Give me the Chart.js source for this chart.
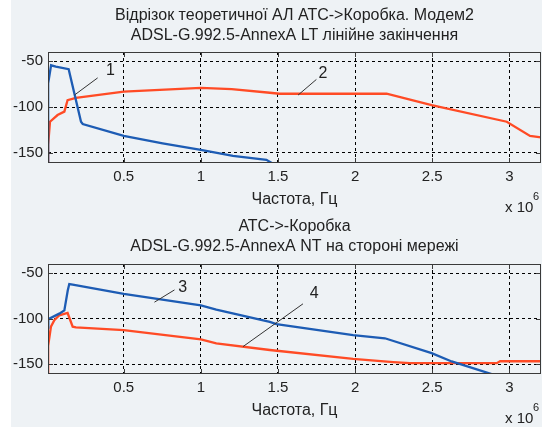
<!DOCTYPE html>
<html>
<head>
<meta charset="utf-8">
<script src="https://cdn.jsdelivr.net/npm/chart.js@4.4.1/dist/chart.umd.min.js"></script>
<style>
  html, body { margin: 0; padding: 0; background: #eef2f5; }
  #wrap { position: relative; width: 542px; height: 427px; overflow: hidden; background: #eef2f5; }
  #strip { position: absolute; left: 0; top: 0; width: 11px; height: 427px; background: #fff; }
  #c1 { position: absolute; left: 0; top: 0; }
  #c2 { position: absolute; left: 0; top: 215px; }
</style>
</head>
<body>
<div id="wrap">
  <div id="strip"></div>
  <canvas id="c1" width="542" height="215"></canvas>
  <canvas id="c2" width="542" height="212"></canvas>
</div>
<script>
// axis ticks (frequency in units of 10^6 Hz)
var xTicks = [0.5, 1, 1.5, 2, 2.5, 3];
var yTicks = [-150, -100, -50];

// top plot: curve 1 (blue) and curve 2 (red)
var topBlueF = [0.009, 0.010, 0.029, 0.06, 0.143, 0.223, 0.234, 0.5, 0.752, 1.0, 1.208, 1.425, 1.48];
var topBlueV = [-165, -74, -54.5, -56, -58.7, -116, -118.5, -131.5, -139.5, -146.7, -153.3, -157.6, -163];
var topRedF = [0.009, 0.010, 0.022, 0.071, 0.115, 0.136, 0.19, 0.5, 1.0, 1.2, 1.447, 1.51, 2.204, 2.496, 2.983, 3.134, 3.205];
var topRedV = [-165, -141, -116, -108.7, -105, -92.4, -89.9, -83.3, -79, -80.5, -84.4, -85.5, -85.5, -97.8, -116, -131.5, -133];

// bottom plot: curve 3 (blue) and curve 4 (red)
var botBlueF = [0.009, 0.011, 0.082, 0.115, 0.137, 0.147, 0.169, 0.5, 1.0, 1.1, 1.447, 1.49, 1.987, 2.193, 2.496, 2.626, 2.92];
var botBlueV = [-110, -100.7, -94.6, -91, -69.2, -62, -62.7, -72.8, -85.5, -90.2, -103.7, -106.2, -118.2, -121.7, -138, -147.2, -163];
var botRedF = [0.009, 0.010, 0.028, 0.05, 0.082, 0.136, 0.169, 0.19, 0.5, 1.0, 1.1, 1.447, 1.987, 2.247, 2.355, 2.918, 2.94, 3.205];
var botRedV = [-165, -130, -109, -101.8, -96.4, -93.9, -109, -109.8, -112.7, -122.8, -127.2, -134.6, -144.4, -148, -149.1, -149.1, -147, -147];

// curve number labels with leader lines: [text, labelF, labelV, fromF, fromV, toF, toV]
var topMarks = [
  ["1", 0.414, -59.8, 0.18, -87, 0.331, -68.2],
  ["2", 1.792, -63.4, 1.63, -87, 1.749, -69.9]
];
var botMarks = [
  ["3", 0.883, -65.7, 0.699, -82, 0.829, -68.5],
  ["4", 1.734, -72.8, 1.273, -130.9, 1.662, -83.8]
];

var FONT = '"Liberation Sans", Arial, sans-serif';
var BLUE = "#1d5cb4";
var RED = "#ff4b25";

function zip(xs, ys) {
  return xs.map(function (x, i) { return { x: x, y: ys[i] }; });
}

// box, inward ticks, labels and texts around the axes
var decor = {
  id: "decor",
  afterDraw: function (chart, args, o) {
    var ctx = chart.ctx, a = chart.chartArea;
    var xs = chart.scales.x, ys = chart.scales.y;
    ctx.save();
    ctx.strokeStyle = "#3a3a3a";
    ctx.lineWidth = 1;
    ctx.strokeRect(Math.round(a.left) + 0.5, Math.round(a.top) + 0.5,
      Math.round(a.right - a.left) - 1, Math.round(a.bottom - a.top) - 1);
    ctx.beginPath();
    xTicks.forEach(function (v) {
      var px = Math.round(xs.getPixelForValue(v)) + 0.5;
      ctx.moveTo(px, a.top); ctx.lineTo(px, a.top + 5);
      ctx.moveTo(px, a.bottom); ctx.lineTo(px, a.bottom - 5);
    });
    yTicks.forEach(function (v) {
      var py = Math.round(ys.getPixelForValue(v)) + 0.5;
      ctx.moveTo(a.left, py); ctx.lineTo(a.left + 5, py);
      ctx.moveTo(a.right, py); ctx.lineTo(a.right - 5, py);
    });
    ctx.stroke();

    // leaders and curve numbers
    ctx.strokeStyle = "#333";
    ctx.fillStyle = "#222";
    ctx.font = "16px " + FONT;
    ctx.textAlign = "center";
    ctx.textBaseline = "middle";
    o.marks.forEach(function (m) {
      ctx.beginPath();
      ctx.moveTo(xs.getPixelForValue(m[3]), ys.getPixelForValue(m[4]));
      ctx.lineTo(xs.getPixelForValue(m[5]), ys.getPixelForValue(m[6]));
      ctx.stroke();
      ctx.fillText(m[0], xs.getPixelForValue(m[1]), ys.getPixelForValue(m[2]));
    });

    // titles and axis label
    var cx = (a.left + a.right) / 2;
    ctx.fillText(o.title[0], cx, o.titleY[0]);
    ctx.fillText(o.title[1], cx, o.titleY[1]);
    ctx.fillText("Частота, Гц", cx, o.xlabelY);
    ctx.textAlign = "left";
    ctx.font = "15px " + FONT;
    ctx.fillText("x 10", 505, o.expY);
    ctx.font = "11px " + FONT;
    ctx.fillText("6", 533, o.expY - 11);
    ctx.restore();
  }
};

function makeChart(id, blue, red, pad, opts) {
  return new Chart(document.getElementById(id).getContext("2d"), {
    type: "line",
    data: {
      datasets: [
        { data: blue, borderColor: BLUE, borderWidth: 2.3, pointRadius: 0, tension: 0 },
        { data: red, borderColor: RED, borderWidth: 2.3, pointRadius: 0, tension: 0 }
      ]
    },
    options: {
      responsive: false,
      animation: false,
      layout: { padding: pad },
      plugins: { legend: { display: false }, tooltip: { enabled: false }, decor: opts },
      scales: {
        x: {
          type: "linear",
          min: 0.009,
          max: 3.205,
          afterBuildTicks: function (s) { s.ticks = xTicks.map(function (v) { return { value: v }; }); },
          afterFit: function (s) { s.height = 22; },
          ticks: {
            color: "#222", font: { family: FONT, size: 15 }, padding: 5, maxRotation: 0,
            autoSkip: false,
            callback: function (v) { return String(v); }
          },
          grid: { color: "#000", lineWidth: 1, drawTicks: false },
          border: { display: false, dash: [3, 3] }
        },
        y: {
          min: -161,
          max: -40,
          afterBuildTicks: function (s) { s.ticks = yTicks.map(function (v) { return { value: v }; }); },
          afterFit: function (s) { s.width = 48; },
          ticks: {
            color: "#222", font: { family: FONT, size: 15 }, padding: 5,
            callback: function (v) { return String(v); }
          },
          grid: { color: "#000", lineWidth: 1, drawTicks: false },
          border: { display: false, dash: [3, 3] }
        }
      }
    },
    plugins: [decor]
  });
}

makeChart("c1", zip(topBlueF, topBlueV), zip(topRedF, topRedV),
  { top: 52, bottom: 30, left: 0, right: 1 },
  {
    marks: topMarks,
    title: ["Відрізок теоретичної АЛ АТС->Коробка. Модем2", "ADSL-G.992.5-AnnexA LT лінійне закінчення"],
    titleY: [16, 36], xlabelY: 200, expY: 208
  });

makeChart("c2", zip(botBlueF, botBlueV), zip(botRedF, botRedV),
  { top: 49, bottom: 31, left: 0, right: 1 },
  {
    marks: botMarks,
    title: ["АТС->-Коробка", "ADSL-G.992.5-AnnexA NT на стороні мережі"],
    titleY: [12, 32], xlabelY: 196, expY: 204
  });
</script>
</body>
</html>
